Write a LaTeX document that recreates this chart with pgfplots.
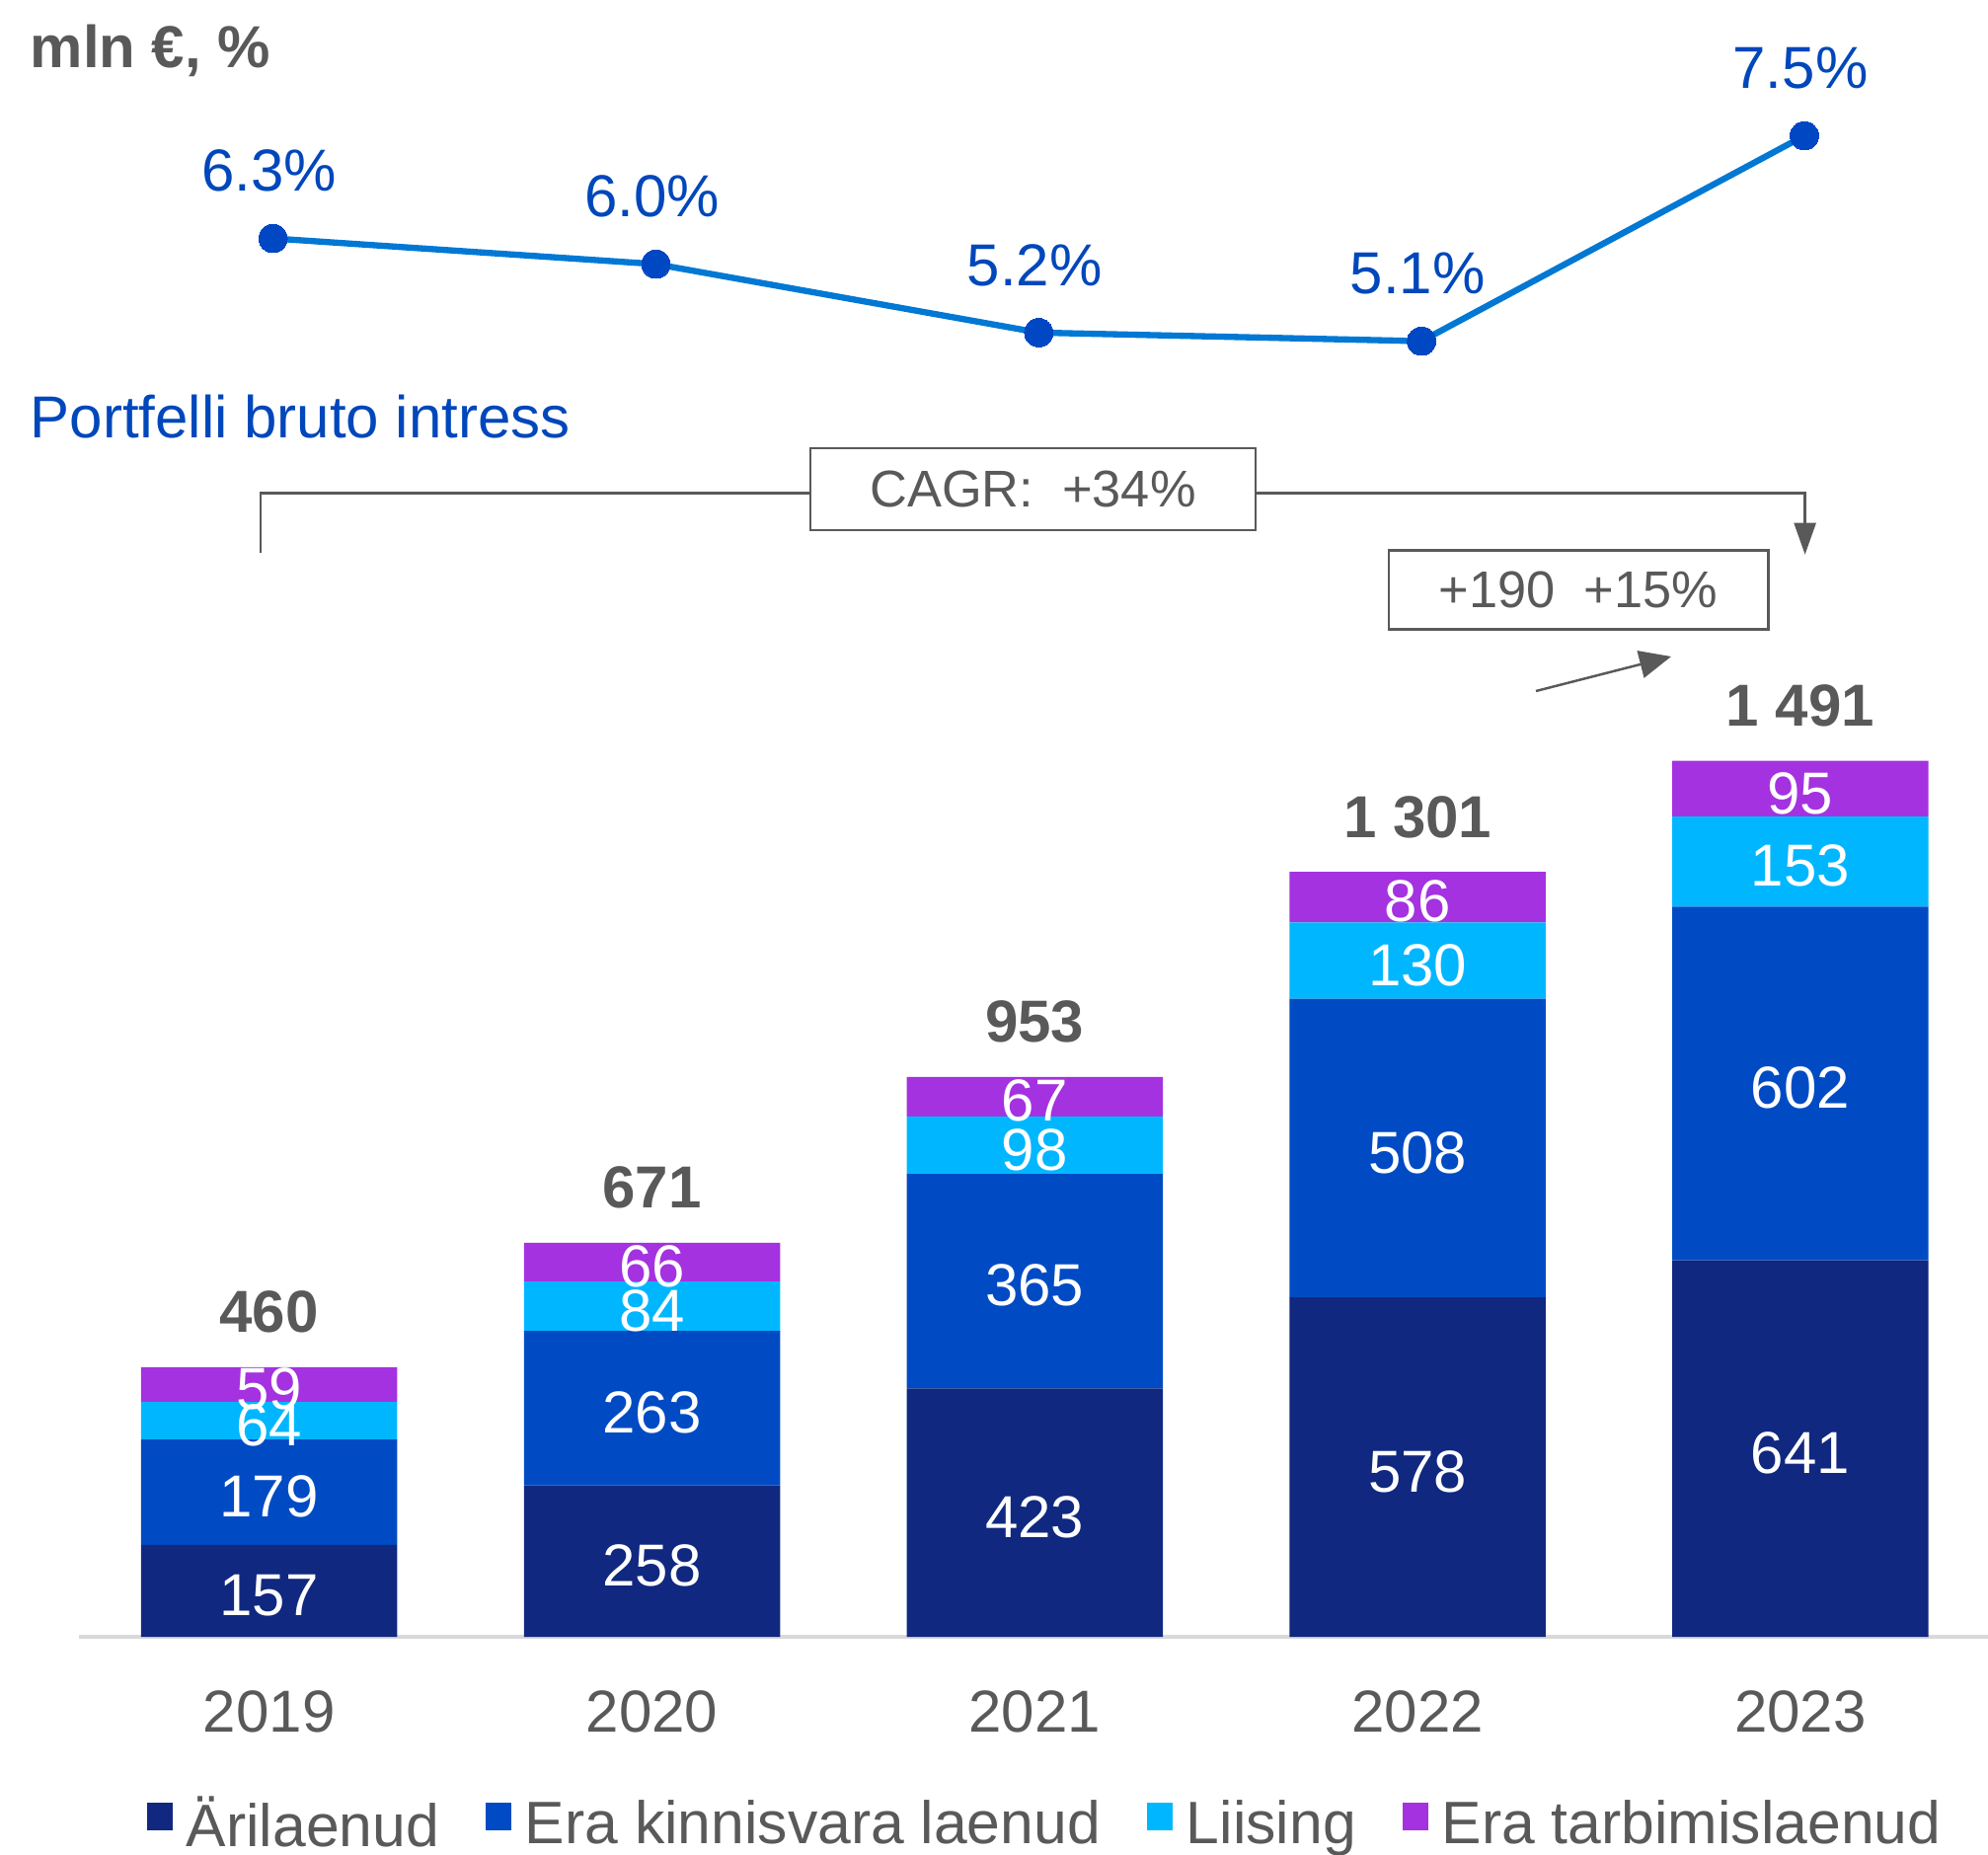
\documentclass[border=0pt]{standalone}
\usepackage{fontspec}
\setmainfont{Liberation Sans}
\usepackage{pgfplots}
\pgfplotsset{compat=1.18}
\usetikzlibrary{arrows.meta}

\definecolor{cNavy}{HTML}{10287F}
\definecolor{cBlue}{HTML}{004BC4}
\definecolor{cCyan}{HTML}{00B7FF}
\definecolor{cPurple}{HTML}{A432E0}
\definecolor{cLine}{HTML}{0078D4}
\definecolor{cMark}{HTML}{0047C4}
\definecolor{cTxtBlue}{HTML}{0047BB}
\definecolor{cGray}{HTML}{595959}
\definecolor{cAxis}{HTML}{D9D9D9}

\newcommand\fbig{\fontsize{17.07pt}{20pt}\selectfont}
\newcommand\flegend{\fontsize{17.25pt}{20pt}\selectfont}
\newcommand\fsmall{\fontsize{14.9pt}{18pt}\selectfont}

\pgfplotsset{
  frame/.style={
    scale only axis, width=19.34cm, height=16.582cm,
    xmin=-0.4968, xmax=4.49, anchor=south west},
}

\begin{document}
\begin{tikzpicture}

% stacked bars
\begin{axis}[
    frame, at={(0.80cm,-16.582cm)},
    ybar stacked, bar width=2.595cm,
    ymin=0, ymax=2785.5,
    axis x line*=bottom, axis y line=none,
    x axis line style={cAxis, line width=1.1pt, -},
    xtick=data, xticklabels={2019,2020,2021,2022,2023},
    major tick length=0pt,
    xticklabel style={font=\fbig, text=cGray, inner sep=0pt, anchor=north, yshift=-0.535cm},
    legend columns=4,
    legend style={at={(rel axis cs:0.0352,-0.1318)}, anchor=south west, draw=none,
      font=\flegend, text=cGray, inner sep=0pt, nodes={inner sep=0pt},
      /tikz/every odd column/.append style={column sep=0.14cm},
      /tikz/every even column/.append style={column sep=0.47cm}},
    legend image code/.code={\fill[#1, draw=none] (0cm,-0.06cm) rectangle (0.26cm,0.22cm);},
]
\addplot[fill=cNavy, draw=none] coordinates {(0,157) (1,258) (2,423) (3,578) (4,641)};
\addplot[fill=cBlue, draw=none] coordinates {(0,179) (1,263) (2,365) (3,508) (4,602)};
\addplot[fill=cCyan, draw=none] coordinates {(0,64) (1,84) (2,98) (3,130) (4,153)};
\addplot[fill=cPurple, draw=none] coordinates {(0,59) (1,66) (2,67) (3,86) (4,95)};
\legend{Ärilaenud, Era kinnisvara laenud, Liising, Era tarbimislaenud}
\end{axis}

% value labels: segment middles and totals, same scale as the bars
\begin{axis}[
    frame, at={(0.80cm,-16.582cm)},
    ymin=0, ymax=2785.5, hide axis,
]
\addplot[draw=none, nodes near coords={\pgfplotspointmeta}, point meta=explicit symbolic,
    every node near coord/.append style={anchor=center, yshift=-0.045cm,
      font=\fbig, text=white}]
  coordinates {
    (0,78.5) [157] (1,129) [258] (2,211.5) [423] (3,289) [578] (4,320.5) [641]
    (0,246.5) [179] (1,389.5) [263] (2,605.5) [365] (3,832) [508] (4,942) [602]
    (0,368) [64] (1,563) [84] (2,837) [98] (3,1151) [130] (4,1319.5) [153]
    (0,429.5) [59] (1,638) [66] (2,919.5) [67] (3,1259) [86] (4,1443.5) [95]
  };
\addplot[draw=none, nodes near coords={\pgfplotspointmeta}, point meta=explicit symbolic,
    every node near coord/.append style={anchor=south, inner sep=0pt, yshift=0.337cm,
      font=\fbig\bfseries, text=cGray}]
  coordinates {(0,459) [460] (1,671) [671] (2,953) [953] (3,1302) [1 301] (4,1491) [1 491]};
\end{axis}

% interest rate line
\begin{axis}[
    frame, at={(0.84cm,-16.582cm)},
    ymin=-10.04, ymax=9.086, hide axis,
]
\addplot[cLine, line width=1.8pt, mark=*, mark size=4.1pt,
    mark options={fill=cMark, draw=cMark, line width=0pt},
    nodes near coords={\pgfmathprintnumber[fixed, fixed zerofill, precision=1]{\pgfplotspointmeta}\%},
    point meta=y,
    every node near coord/.append style={anchor=south, inner sep=0pt, yshift=0.47cm,
      xshift=-0.04cm, font=\fbig, text=cTxtBlue,
      /pgf/number format/assume math mode=true}]
  coordinates {(0,6.3) (1,6.0) (2,5.2) (3,5.1) (4,7.5)};
\end{axis}

% titles
\node[anchor=base west, inner sep=0pt, font=\fbig\bfseries, text=cGray] at (0.30cm,-0.68cm) {mln €, \%};
\node[anchor=base west, inner sep=0pt, font=\fbig, text=cTxtBlue] at (0.30cm,-4.43cm) {Portfelli bruto intress};

% CAGR bracket
\draw[cGray, line width=0.7pt] (2.64cm,-5.60cm) -- (2.64cm,-4.995cm) -- (8.21cm,-4.995cm);
\draw[cGray, line width=0.7pt, -{Triangle[length=0.32cm, width=0.22cm]}]
  (12.72cm,-4.995cm) -- (18.286cm,-4.995cm) -- (18.286cm,-5.617cm);
\draw[cGray, line width=0.7pt] (8.21cm,-4.54cm) rectangle (12.72cm,-5.37cm);
\node[font=\fsmall, text=cGray] at (10.465cm,-4.955cm) {CAGR:\ \ +34\%};

% yearly change
\draw[cGray, line width=0.7pt] (14.07cm,-5.577cm) rectangle (17.917cm,-6.373cm);
\node[font=\fsmall, text=cGray] at (15.99cm,-5.975cm) {+190\ \ +15\%};
\draw[cGray, line width=0.7pt, -{Triangle[length=0.32cm, width=0.28cm]}]
  (15.56cm,-7.00cm) -- (16.93cm,-6.65cm);

\pgfresetboundingbox
\path[use as bounding box] (0,0) rectangle (20.14cm,-18.79cm);
\end{tikzpicture}
\end{document}
